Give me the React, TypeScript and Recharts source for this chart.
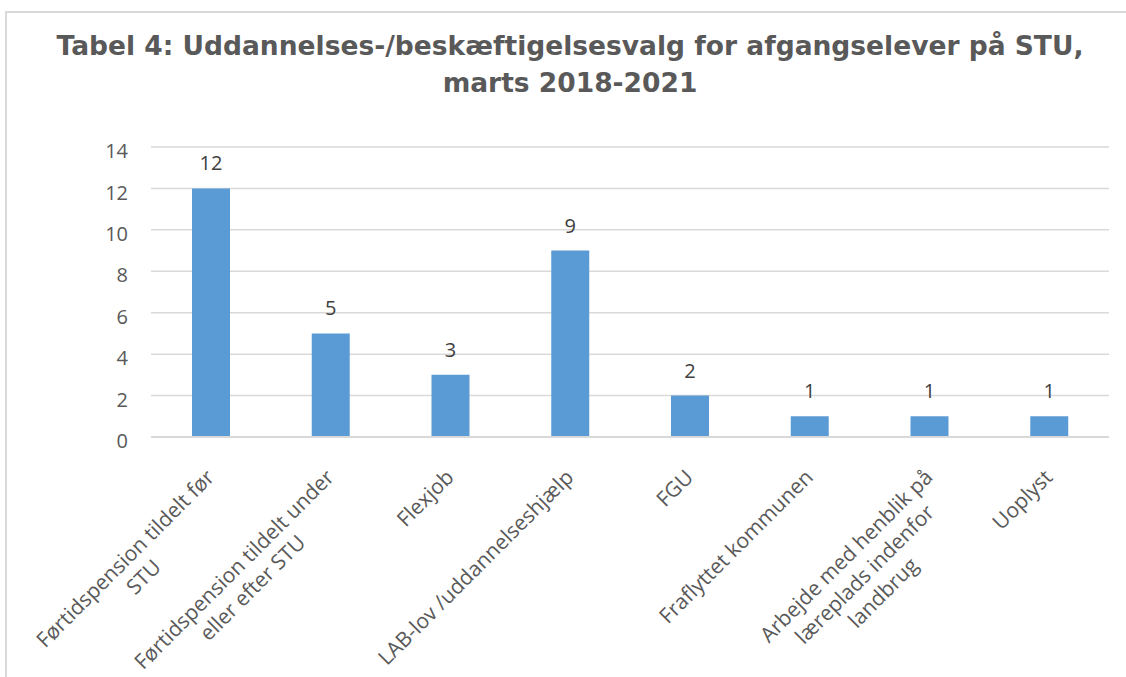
import React from 'react';
import { BarChart, Bar, XAxis, YAxis, CartesianGrid, LabelList } from 'recharts';

const categories = [
  'Førtidspension tildelt før\nSTU',
  'Førtidspension tildelt under\neller efter STU',
  'Flexjob',
  'LAB-lov /uddannelseshjælp',
  'FGU',
  'Fraflyttet kommunen',
  'Arbejde med henblik på\nlæreplads indenfor\nlandbrug',
  'Uoplyst',
];
const counts = [12, 5, 3, 9, 2, 1, 1, 1];
const yTicks = [0, 2, 4, 6, 8, 10, 12, 14];
const titleLines = [
  'Tabel 4: Uddannelses-/beskæftigelsesvalg for afgangselever på STU,',
  'marts 2018-2021',
];

const data = categories.map((name, i) => ({ name, count: counts[i] }));

const LABEL_FONT = '"Open Sans", "Noto Sans", sans-serif';
const LABEL_SIZE = 21;

let canvasCtx: CanvasRenderingContext2D | null = null;
const measure = (s: string) => {
  if (!canvasCtx) canvasCtx = document.createElement('canvas').getContext('2d');
  if (!canvasCtx) return s.length * 10;
  canvasCtx.font = `${LABEL_SIZE}px "Open Sans", "Noto Sans", sans-serif`;
  return canvasCtx.measureText(s).width;
};

const CategoryTick = ({ x, y, payload }: any) => {
  const lines: string[] = String(payload.value).split('\n');
  const w = Math.max(...lines.map(measure));
  return (
    <g transform={`translate(${x - 6},${y + 23}) rotate(-45)`}>
      {lines.map((l, i) => (
        <text
          key={i}
          x={-w / 2}
          y={15 + i * 26}
          textAnchor="middle"
          fill="#595959"
          fontSize={LABEL_SIZE}
          fontFamily={LABEL_FONT}
        >
          {l}
        </text>
      ))}
    </g>
  );
};

const ValueTick = ({ x, y, payload }: any) => (
  <text
    x={x}
    y={y + 4}
    dy="0.355em"
    textAnchor="end"
    fill="#595959"
    fontSize={20}
    fontFamily={LABEL_FONT}
  >
    {payload.value}
  </text>
);

export default function App() {
  return (
    <div style={{ position: 'absolute', left: 0, top: 0, width: 1126, height: 677, overflow: 'hidden', background: '#fff' }}>
      <div style={{ position: 'absolute', left: 5, top: 11, width: 1200, height: 800, border: '2px solid #D9D9D9' }} />
      <svg width={1126} height={110} style={{ position: 'absolute', left: 0, top: 0 }}>
        {titleLines.map((t, i) => (
          <text
            key={i}
            x={570}
            y={55 + i * 37}
            textAnchor="middle"
            fill="#595959"
            fontFamily='"DejaVu Sans", sans-serif'
            fontWeight="bold"
            fontSize={26.5}
          >
            {t}
          </text>
        ))}
      </svg>
      <div style={{ position: 'absolute', left: 0, top: 0 }}>
        <BarChart
          width={1126}
          height={677}
          data={data}
          margin={{ top: 147, right: 17, left: 101, bottom: 0 }}
          barCategoryGap={0}
        >
          <CartesianGrid vertical={false} stroke="#D9D9D9" strokeWidth={1.5} />
          <XAxis
            dataKey="name"
            interval={0}
            height={240}
            tickLine={false}
            axisLine={{ stroke: '#D9D9D9', strokeWidth: 2 }}
            tick={<CategoryTick />}
          />
          <YAxis
            domain={[0, 14]}
            ticks={yTicks}
            width={50}
            axisLine={false}
            tickLine={false}
            tickMargin={17}
            tick={<ValueTick />}
          />
          <Bar dataKey="count" fill="#5B9BD5" barSize={38} isAnimationActive={false}>
            <LabelList
              dataKey="count"
              position="top"
              offset={18}
              fill="#404040"
              fontSize={20}
              fontFamily={LABEL_FONT}
            />
          </Bar>
        </BarChart>
      </div>
    </div>
  );
}
